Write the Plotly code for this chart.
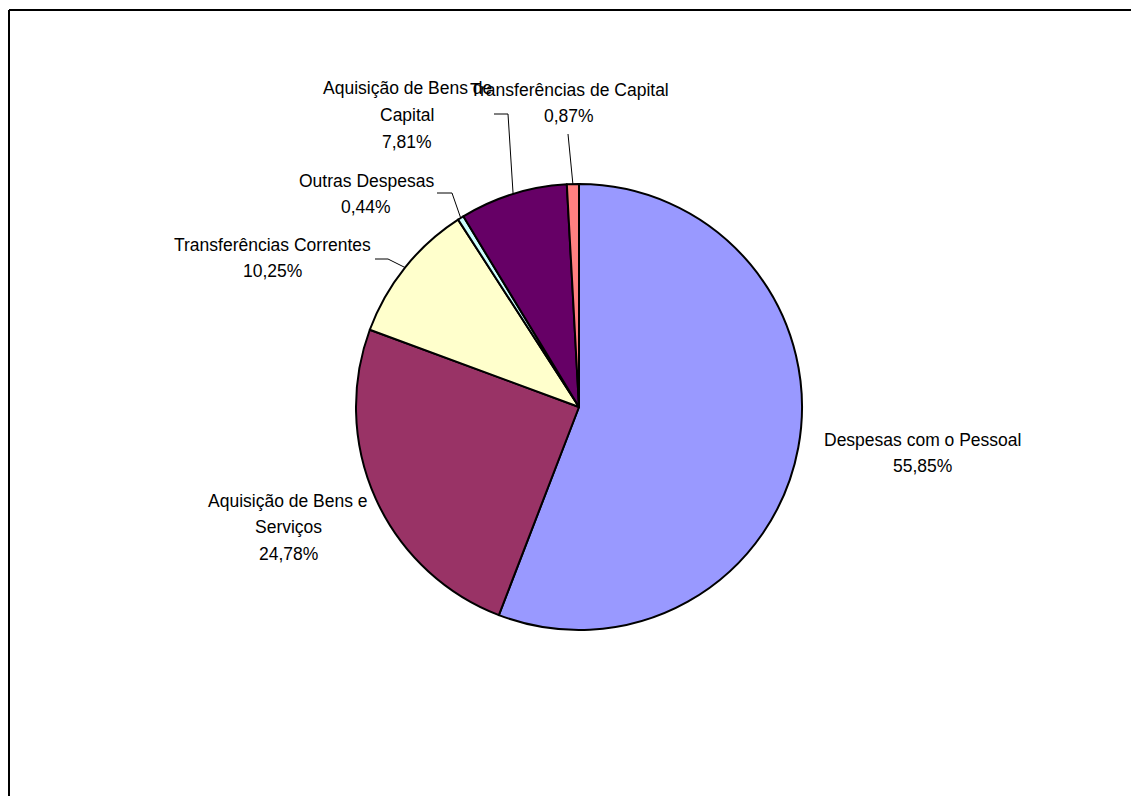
import math
import plotly.graph_objects as go

# ---- data ----
categories = [
    "Despesas com o Pessoal",
    "Aquisição de Bens e Serviços",
    "Transferências Correntes",
    "Outras Despesas",
    "Aquisição de Bens de Capital",
    "Transferências de Capital",
]
values = [55.85, 24.78, 10.25, 0.44, 7.81, 0.87]
colors = ["#9999FF", "#993366", "#FFFFCC", "#CCFFFF", "#660066", "#FF8080"]

# ---- layout constants (pixels, page coordinates) ----
W, H = 1139, 796
OFF = 8  # page body margin
CX, CY, R = 579, 407, 223
FONT = "Liberation Sans, Arial, sans-serif"
FSIZE = 17.5
LINE_H = 26.5

# display label wrapping
wrapped = {
    "Despesas com o Pessoal": ["Despesas com o Pessoal"],
    "Aquisição de Bens e Serviços": ["Aquisição de Bens e", "Serviços"],
    "Transferências Correntes": ["Transferências Correntes"],
    "Outras Despesas": ["Outras Despesas"],
    "Aquisição de Bens de Capital": ["Aquisição de Bens de", "Capital"],
    "Transferências de Capital": ["Transferências de Capital"],
}
# label centre (px) and leader line start/elbow (px) or None
label_pos = [
    ((922, 453), None),
    ((288, 527), None),
    ((272, 258), ((375, 259), (388, 259))),
    ((366, 194), ((437, 193), (452, 193))),
    ((407, 115), ((494, 114), (508, 114))),
    ((569, 103), ((568, 134), (568, 134))),
]


def px(x):
    return (x - OFF) / W


def py(y):
    return 1 - (y - OFF) / H


fig = go.Figure(
    go.Pie(
        labels=categories,
        values=values,
        sort=False,
        direction="clockwise",
        rotation=0,
        marker=dict(colors=colors, line=dict(color="black", width=2)),
        textinfo="none",
        hoverinfo="label+percent",
        showlegend=False,
        domain=dict(x=[px(CX - R), px(CX + R)], y=[py(CY + R), py(CY - R)]),
    )
)

total = sum(values)
cum = 0.0
annotations = []
shapes = []
for cat, val, (center, leader) in zip(categories, values, label_pos):
    mid = (cum + val / 2) / total * 2 * math.pi
    cum += val
    ex = CX + R * math.sin(mid)
    ey = CY - R * math.cos(mid)
    pct = f"{val / total * 100:.2f}".replace(".", ",") + "%"
    lines = wrapped[cat] + [pct]
    n = len(lines)
    for i, line in enumerate(lines):
        ly = center[1] + (i - (n - 1) / 2) * LINE_H
        annotations.append(
            dict(
                x=px(center[0]), y=py(ly), xref="paper", yref="paper",
                text=line, showarrow=False,
                xanchor="center", yanchor="middle", align="center",
                font=dict(family=FONT, size=FSIZE, color="black"),
            )
        )
    if leader:
        (sx, sy), (bx, by) = leader
        shapes.append(
            dict(
                type="path", xref="paper", yref="paper",
                path=f"M {px(sx)},{py(sy)} L {px(bx)},{py(by)} L {px(ex)},{py(ey)}",
                line=dict(color="black", width=1),
            )
        )

# chart frame (left and top edges visible)
shapes.append(dict(type="line", xref="paper", yref="paper",
                   x0=px(9), y0=py(10), x1=1.0, y1=py(10),
                   line=dict(color="black", width=2)))
shapes.append(dict(type="line", xref="paper", yref="paper",
                   x0=px(9), y0=py(10), x1=px(9), y1=0.0,
                   line=dict(color="black", width=2)))

fig.update_layout(
    width=W, height=H,
    margin=dict(l=0, r=0, t=0, b=0),
    paper_bgcolor="white", plot_bgcolor="white",
    annotations=annotations, shapes=shapes,
    font=dict(family=FONT),
)

fig.write_html("out.html")
